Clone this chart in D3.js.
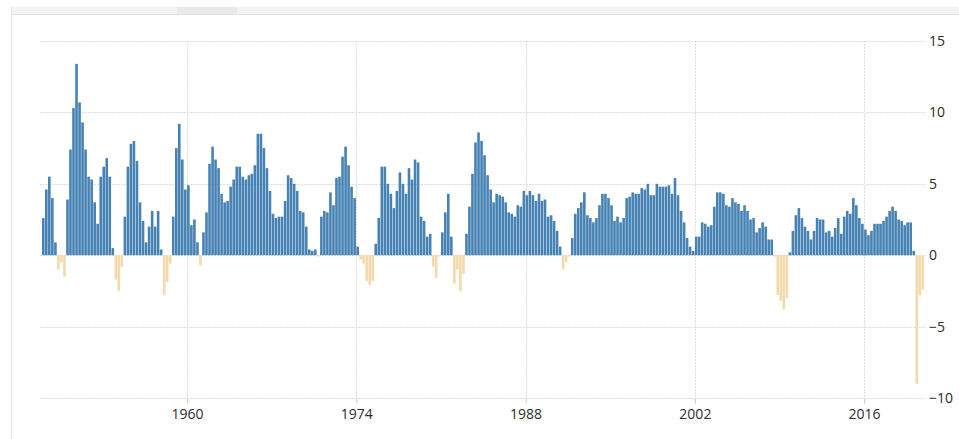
<!DOCTYPE html>
<html>
<head>
    <title>United States GDP Growth Rate</title>
    <meta charset="utf-8">
    <script src="https://cdn.jsdelivr.net/npm/d3@7"></script>
    <style>
        body { margin: 0; background: #fff; }
        .tick text { font-family: "Open Sans", "Liberation Sans", sans-serif; font-size: 14px; fill: #2b2b2b; }
    </style>
</head>
<body>
<div id="container"></div>
<script>
// Data: year-on-year GDP growth, quarterly, starting 1948 Q1
const startYear = 1948
const growth = [
     2.6,  4.6,  5.5,  4.0,   // 1948
     0.9, -1.0, -0.5, -1.5,   // 1949
     3.9,  7.4, 10.3, 13.4,   // 1950
    10.7,  9.3,  7.4,  5.5,   // 1951
     5.3,  3.7,  2.2,  5.5,   // 1952
     6.2,  6.8,  5.5,  0.5,   // 1953
    -1.7, -2.5, -0.8,  2.7,   // 1954
     6.2,  7.8,  8.0,  6.6,   // 1955
     3.7,  2.4,  0.9,  2.0,   // 1956
     3.1,  2.0,  3.1,  0.4,   // 1957
    -2.8, -1.9, -0.6,  2.7,   // 1958
     7.5,  9.2,  6.7,  4.6,   // 1959
     4.9,  2.1,  2.5,  0.9,   // 1960
    -0.7,  1.6,  3.0,  6.4,   // 1961
     7.6,  6.7,  6.1,  4.3,   // 1962
     3.7,  3.8,  4.8,  5.3,   // 1963
     6.2,  6.2,  5.5,  5.3,   // 1964
     5.6,  5.7,  6.3,  8.5,   // 1965
     8.5,  7.5,  6.1,  4.5,   // 1966
     2.9,  2.6,  2.7,  2.7,   // 1967
     3.8,  5.6,  5.4,  5.0,   // 1968
     4.5,  3.1,  3.0,  2.0,   // 1969
     0.4,  0.3,  0.4, -0.1,   // 1970
     2.7,  3.1,  3.0,  4.4,   // 1971
     3.5,  5.4,  5.5,  6.9,   // 1972
     7.6,  6.3,  4.8,  4.0,   // 1973
     0.6, -0.3, -0.6, -1.8,   // 1974
    -2.1, -1.8,  0.8,  2.6,   // 1975
     6.2,  6.2,  5.0,  4.3,   // 1976
     3.3,  4.5,  5.8,  5.0,   // 1977
     4.3,  6.1,  5.3,  6.7,   // 1978
     6.5,  2.7,  2.4,  1.3,   // 1979
     1.5, -0.8, -1.6, -0.1,   // 1980
     1.6,  3.0,  4.3,  1.3,   // 1981
    -2.0, -1.0, -2.5, -1.3,   // 1982
     1.5,  3.4,  5.7,  7.9,   // 1983
     8.6,  8.0,  7.0,  5.6,   // 1984
     4.6,  3.7,  4.3,  4.2,   // 1985
     4.1,  3.7,  3.0,  2.9,   // 1986
     2.7,  3.5,  3.4,  4.5,   // 1987
     4.2,  4.5,  4.2,  3.8,   // 1988
     4.3,  3.8,  3.9,  2.7,   // 1989
     2.8,  2.4,  1.7,  0.6,   // 1990
    -1.0, -0.5, -0.1,  1.2,   // 1991
     2.9,  3.3,  3.7,  4.4,   // 1992
     2.8,  2.6,  2.3,  2.6,   // 1993
     3.5,  4.3,  4.3,  4.0,   // 1994
     3.5,  2.4,  2.7,  2.3,   // 1995
     2.6,  4.0,  4.1,  4.4,   // 1996
     4.3,  4.3,  4.7,  4.6,   // 1997
     5.0,  4.2,  4.2,  5.0,   // 1998
     4.8,  4.8,  4.8,  4.9,   // 1999
     4.3,  5.4,  4.2,  3.1,   // 2000
     2.3,  1.2,  0.6,  0.3,   // 2001
     1.3,  1.3,  2.3,  2.2,   // 2002
     2.0,  2.1,  3.4,  4.4,   // 2003
     4.4,  4.3,  3.5,  3.4,   // 2004
     4.0,  3.7,  3.6,  3.1,   // 2005
     3.5,  3.1,  2.5,  2.6,   // 2006
     1.6,  1.9,  2.3,  2.0,   // 2007
     1.1,  1.1, -0.1, -2.8,   // 2008
    -3.2, -3.8, -3.0,  0.2,   // 2009
     1.7,  2.8,  3.3,  2.6,   // 2010
     2.0,  1.7,  1.1,  1.7,   // 2011
     2.6,  2.5,  2.5,  1.6,   // 2012
     1.7,  1.3,  1.9,  2.6,   // 2013
     1.5,  2.7,  3.1,  2.9,   // 2014
     4.0,  3.5,  2.6,  2.2,   // 2015
     1.8,  1.4,  1.7,  2.2,   // 2016
     2.2,  2.2,  2.4,  2.7,   // 2017
     3.1,  3.4,  3.1,  2.5,   // 2018
     2.4,  2.1,  2.3,  2.3,   // 2019
     0.3, -9.0, -2.8, -2.4    // 2020
]
const xTickYears = [1960, 1974, 1988, 2002, 2016]
const yTicks = [-10, -5, 0, 5, 10, 15]

// quarter start dates for each value
const quarters = growth.map((v, i) => new Date(startYear + Math.floor(i / 4), (i % 4) * 3, 1))

// Variables
const w = 959
const h = 439
const plotLeft = 42, plotRight = 924.6, plotTop = 41, plotBottom = 398

const xScale = d3.scaleTime()
    .domain([new Date(startYear, 0, 1), new Date(2021, 0, 1)])
    .range([plotLeft, plotRight])

const yScale = d3.scaleLinear()
    .domain([-10, 15])
    .range([plotBottom, plotTop])

const step = (plotRight - plotLeft) / growth.length

const svg = d3.select("#container")
    .append("svg")
    .attr("width", w)
    .attr("height", h)
    .style("display", "block")

// Frame bits around the chart
svg.append("rect")
    .attr("x", 11).attr("y", 7)
    .attr("width", w - 11).attr("height", 7)
    .attr("fill", "#f2f2f2")
svg.append("rect")
    .attr("x", 177).attr("y", 7)
    .attr("width", 60).attr("height", 7)
    .attr("fill", "#e9e9e9")
svg.append("line")
    .attr("x1", 11).attr("x2", w)
    .attr("y1", 14.5).attr("y2", 14.5)
    .attr("stroke", "#e2e2e2")
svg.append("line")
    .attr("x1", 11.5).attr("x2", 11.5)
    .attr("y1", 7).attr("y2", h)
    .attr("stroke", "#e6e6e6")

// Grid
svg.append("g")
    .selectAll("line")
    .data(yTicks)
    .enter()
    .append("line")
    .attr("x1", 40)
    .attr("x2", 926)
    .attr("y1", d => Math.round(yScale(d)) + 0.5)
    .attr("y2", d => Math.round(yScale(d)) + 0.5)
    .attr("stroke", "#dedede")
    .attr("stroke-dasharray", "2,1")

svg.append("g")
    .selectAll("line")
    .data(xTickYears)
    .enter()
    .append("line")
    .attr("x1", d => Math.round(xScale(new Date(d, 0, 1))) + 0.5)
    .attr("x2", d => Math.round(xScale(new Date(d, 0, 1))) + 0.5)
    .attr("y1", plotTop)
    .attr("y2", plotBottom)
    .attr("stroke", "#dedede")
    .attr("stroke-dasharray", "2,1")

// Bars
svg.append("g")
    .selectAll("rect")
    .data(growth)
    .enter()
    .append("rect")
    .attr("x", (d, i) => xScale(quarters[i]))
    .attr("y", d => yScale(Math.max(0, d)))
    .attr("width", step * 0.86)
    .attr("height", d => Math.abs(yScale(d) - yScale(0)))
    .attr("fill", d => d >= 0 ? "#4682b4" : "#f5d9a9")

// Axis
const xAxis = d3.axisBottom(xScale)
    .tickValues(xTickYears.map(y => new Date(y, 0, 1)))
    .tickFormat(d3.timeFormat("%Y"))
    .tickSize(5)
    .tickPadding(6)

svg.append("g")
    .attr("transform", "translate(0," + (plotBottom + 0.5) + ")")
    .call(xAxis)
    .call(g => g.select(".domain").remove())
    .call(g => g.selectAll(".tick line").attr("stroke", "#c8c8c8"))
    .attr("id", "x-axis")

const yAxis = d3.axisRight(yScale)
    .tickValues(yTicks)
    .tickSize(0)
    .tickPadding(3)

svg.append("g")
    .attr("transform", "translate(926,0)")
    .call(yAxis)
    .call(g => g.select(".domain").remove())
    .attr("id", "y-axis")
</script>
</body>
</html>
